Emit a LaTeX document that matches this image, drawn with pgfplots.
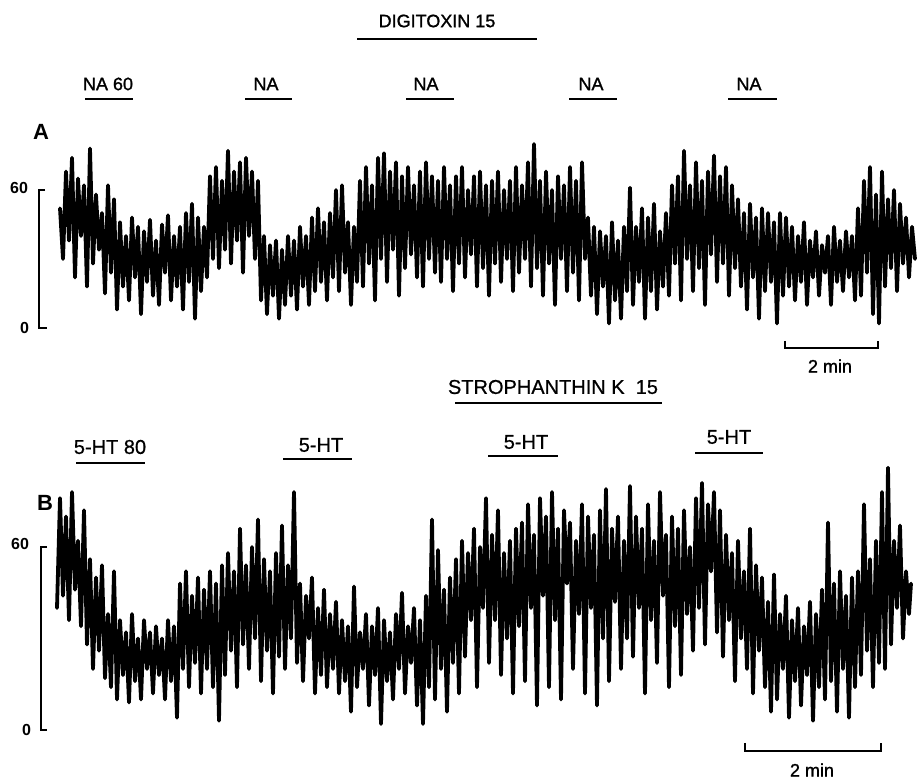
\documentclass[border=0pt]{standalone}
\usepackage{fontspec}
\setmainfont{Liberation Sans}
\newfontfamily\heavy{Liberation Sans}[FakeBold=1.3]
\newfontfamily\medium{Liberation Sans}[FakeBold=0.7]
\usepackage{pgfplots}
\pgfplotsset{compat=1.18}

% every axis covers the whole page; x is in pixels of the original figure
\pgfplotsset{
  page/.style={at={(0,0)},anchor=south west,scale only axis,
    width=461.5pt,height=389.5pt,xmin=0,xmax=923,hide axis,clip=false},
  trace/.style={black,line width=1.9pt,line join=round,line cap=round,no marks},
}
\tikzset{bar/.style={line width=1.3pt},
  lA/.style={font=\heavy\fontsize{9}{10}\selectfont},
  lB/.style={font=\medium\fontsize{10}{12}\selectfont}}

\begin{document}
\begin{tikzpicture}
\useasboundingbox (0,0) rectangle (461.5pt,389.5pt);

% ---- labels, drug bars and time bars (pixel frame, y downwards)
\begin{axis}[page,ymin=0,ymax=779,y dir=reverse]
  \node[lA] at (437,21) {DIGITOXIN 15};
  \draw[bar] (357,39) -- (537,39);
  \node[lA] at (108,84) {NA 60};
  \draw[bar] (85,99) -- (133,99);
  \node[lA] at (266,84) {NA};
  \draw[bar] (245,99) -- (292,99);
  \node[lA] at (426,84) {NA};
  \draw[bar] (406,99) -- (454,99);
  \node[lA] at (591,84) {NA};
  \draw[bar] (569,99) -- (617,99);
  \node[lA] at (749,84) {NA};
  \draw[bar] (728,99) -- (777,99);
  \node[font=\bfseries\fontsize{11}{12}\selectfont] at (41,132) {A};
  \draw[line width=1pt] (785,341) -- (785,348) -- (878,348) -- (878,341);
  \node[lA] at (830,366) {2 min};

  \node[lB] at (553,387) {STROPHANTHIN K\ \ 15};
  \draw[bar] (455,403) -- (662,403);
  \node[lB] at (110,447) {5-HT 80};
  \draw[bar] (76,463) -- (145,463);
  \node[lB] at (321,445) {5-HT};
  \draw[bar] (283,459) -- (352,459);
  \node[lB] at (526,442) {5-HT};
  \draw[bar] (488,456) -- (558,456);
  \node[lB] at (729,437) {5-HT};
  \draw[bar] (695,453) -- (763,453);
  \node[font=\bfseries\fontsize{11}{12}\selectfont] at (45,503) {B};
  \draw[line width=1pt] (745,743) -- (745,751) -- (881,751) -- (881,743);
  \node[lA] at (812,770) {2 min};
\end{axis}

% ---- trace A (digitoxin), y in units of the 0-60 scale
\begin{axis}[page,ymin=-196.09,ymax=142.61]
  \draw[line width=1pt] (45,60) -- (38.5,60) -- (38.5,0) -- (47,0);
  \node[font=\bfseries\fontsize{8}{9}\selectfont,anchor=east] at (35,61) {60};
  \node[font=\bfseries\fontsize{8}{9}\selectfont,anchor=east] at (36,0) {0};
  \addplot[trace] coordinates {
    (60,52)(63,30)(66,68)(69,38)(72,74)(75,22)(78,65)(81,40)(84,62)(87,18)(90,78)(93,28)(96,58)(99,34)
    (102,50)(105,15)(108,62)(111,24)(114,56)(117,8)
    (120,46)(123,18)(126,40)(129,12)(132,48)(135,22)(138,44)(141,6)(144,42)(147,20)(150,47)(153,14)
    (156,38)(159,10)(162,45)(165,24)(168,49)(171,12)(174,40)(177,18)(180,44)(183,8)(186,50)(189,20)
    (192,54)(195,4)(198,48)(201,16)(204,44)(207,22)
    (210,66)(213,30)(216,70)(219,26)(222,64)(225,34)(228,77)(231,28)(234,68)(237,38)(240,72)(243,24)
    (246,74)(249,40)(252,68)(255,30)(258,64)
    (261,12)(264,40)(267,6)(270,36)(273,14)(276,38)(279,4)(282,34)(285,10)
    (288,40)(291,14)(294,38)(297,8)(300,44)(303,18)(306,40)(309,10)(312,48)(315,16)(318,52)(321,20)
    (324,46)(327,12)(330,50)(333,22)(336,60)(339,16)(342,62)(345,24)
    (348,46)(351,10)(354,44)(357,20)
    (360,64)(363,18)(366,70)(369,28)(372,62)(375,12)(378,74)(381,30)(384,76)(387,20)(390,68)(393,34)
    (396,72)(399,14)(402,66)(405,26)(408,70)(411,32)(414,62)(417,22)(420,68)(423,18)(426,72)(429,30)
    (432,66)(435,24)(438,64)
    (441,20)(444,70)(447,30)(450,62)(453,16)(456,66)(459,28)(462,70)(465,22)(468,60)(471,32)(474,66)
    (477,18)(480,68)(483,26)(486,62)(489,14)(492,64)(495,28)(498,68)(501,20)(504,60)(507,30)(510,64)
    (513,16)(516,70)(519,24)(522,62)(525,30)(528,72)(531,18)(534,80)(537,26)
    (540,64)(543,14)(546,68)(549,28)(552,60)(555,10)(558,66)(561,30)(564,62)(567,16)(570,70)(573,24)
    (576,64)(579,12)(582,72)(585,30)
    (588,48)(591,14)(594,44)(597,6)(600,42)(603,18)(606,40)(609,2)(612,46)(615,12)(618,38)(621,4)
    (624,44)(627,16)(630,61)
    (633,10)(636,44)(639,20)(642,52)(645,4)(648,48)(651,16)(654,54)(657,8)(660,42)(663,18)(666,50)
    (669,14)(672,62)(675,28)(678,66)(681,12)(684,77)(687,30)(690,62)(693,16)(696,72)(699,26)(702,64)
    (705,10)(708,68)(711,32)(714,75)(717,20)(720,66)(723,28)(726,70)(729,14)(732,62)(735,26)
    (738,56)(741,18)(744,50)(747,8)(750,54)(753,22)(756,48)(759,4)(762,52)(765,16)(768,50)(771,20)
    (774,46)(777,2)(780,50)(783,14)(786,48)(789,18)
    (792,44)(795,12)(798,40)(801,20)(804,46)(807,10)(810,38)(813,22)(816,42)(819,14)(822,36)(825,24)
    (828,40)(831,10)(834,44)(837,20)(840,38)(843,16)(846,42)(849,22)(852,40)(855,12)
    (858,52)(861,14)(864,64)(867,24)(870,70)(873,6)(876,58)(879,2)(882,68)(885,18)(888,56)(891,26)
    (894,60)(897,16)(900,54)(903,28)(906,48)(909,22)(912,44)(915,30)
  };
\end{axis}

% ---- trace B (strophanthin K)
\begin{axis}[page,ymin=-16.07,ymax=239.34]
  \draw[line width=1pt] (47,60) -- (40.5,60) -- (40.5,0) -- (47,0);
  \node[font=\bfseries\fontsize{8}{9}\selectfont,anchor=east] at (36,61) {60};
  \node[font=\bfseries\fontsize{8}{9}\selectfont,anchor=east] at (38,0) {0};
  \addplot[trace] coordinates {
    (57,40)(60,76)(63,44)(66,70)(69,36)(72,78)(75,46)(78,62)(81,34)(84,72)
    (87,28)(90,56)(93,20)(96,50)(99,26)(102,54)(105,17)
    (108,38)(111,14)(114,52)(117,10)(120,36)(123,18)(126,32)(129,9)(132,38)(135,16)(138,30)(141,10)
    (144,36)(147,20)(150,32)(153,12)(156,34)(159,18)(162,30)(165,10)(168,36)(171,16)(174,34)(177,4)
    (180,48)(183,20)(186,52)(189,14)(192,44)(195,22)(198,50)(201,12)(204,46)(207,20)(210,52)(213,14)
    (216,48)(219,3)
    (222,54)(225,18)(228,58)(231,26)(234,52)(237,14)(240,66)(243,28)(246,54)(249,20)(252,60)(255,30)
    (258,69)(261,16)(264,56)(267,26)(270,52)(273,12)(276,58)(279,24)(282,67)(285,20)(288,54)
    (291,30)(294,78)(297,22)(300,48)(303,16)(306,44)(309,30)(312,50)(315,12)(318,40)(321,18)(324,46)
    (327,14)(330,38)(333,20)(336,42)(339,12)
    (342,36)(345,16)(348,34)(351,6)(354,47)(357,14)(360,32)(363,20)(366,38)(369,8)(372,34)(375,18)
    (378,40)(381,2)(384,36)(387,16)(390,32)(393,10)(396,38)(399,20)(402,45)(405,12)(408,34)(411,22)
    (414,40)(417,8)(420,36)(423,2)
    (426,44)(429,14)(432,69)(435,10)(438,59)(441,20)(444,46)(447,6)(450,50)(453,22)(456,56)(459,12)
    (462,62)(465,24)(468,58)(471,36)(474,66)(477,14)(480,60)(483,40)(486,76)(489,22)(492,64)(495,36)
    (498,72)(501,18)(504,58)(507,30)(510,62)(513,12)(516,66)(519,34)
    (522,68)(525,16)(528,74)(531,40)(534,64)(537,8)(540,76)(543,44)(546,70)(549,14)(552,78)(555,36)
    (558,66)(561,10)(564,72)(567,48)(570,68)(573,20)(576,62)(579,38)(582,74)(585,12)(588,70)(591,40)
    (594,64)(597,8)(600,72)(603,30)(606,79)(609,16)(612,66)(615,42)(618,70)(621,20)(624,62)
    (627,30)(630,80)(633,24)(636,70)(639,40)(642,66)(645,12)(648,74)(651,36)(654,62)(657,22)(660,78)
    (663,44)(666,64)(669,14)(672,70)(675,34)(678,66)(681,18)(684,72)(687,38)(690,60)
    (693,26)(696,76)(699,40)(702,81)(705,28)(708,74)(711,52)(714,78)(717,32)(720,72)
    (723,24)(726,64)(729,36)(732,58)(735,16)(738,62)(741,30)(744,52)(747,20)(750,66)(753,12)(756,54)
    (759,26)(762,50)
    (765,14)(768,42)(771,6)(774,51)(777,10)(780,38)(783,20)(786,44)(789,4)(792,36)(795,16)(798,40)
    (801,8)(804,34)(807,18)(810,42)(813,3)(816,38)(819,14)
    (822,46)(825,10)(828,68)(831,16)(834,48)(837,6)(840,52)(843,20)(846,44)(849,4)(852,50)(855,14)
    (858,52)(861,18)(864,74)(867,26)(870,56)(873,14)(876,62)(879,22)(882,78)(885,20)(888,86)(891,28)
    (894,62)(897,40)(900,67)(903,30)(906,52)(909,38)(911,48)
  };
\end{axis}
\end{tikzpicture}
\end{document}
